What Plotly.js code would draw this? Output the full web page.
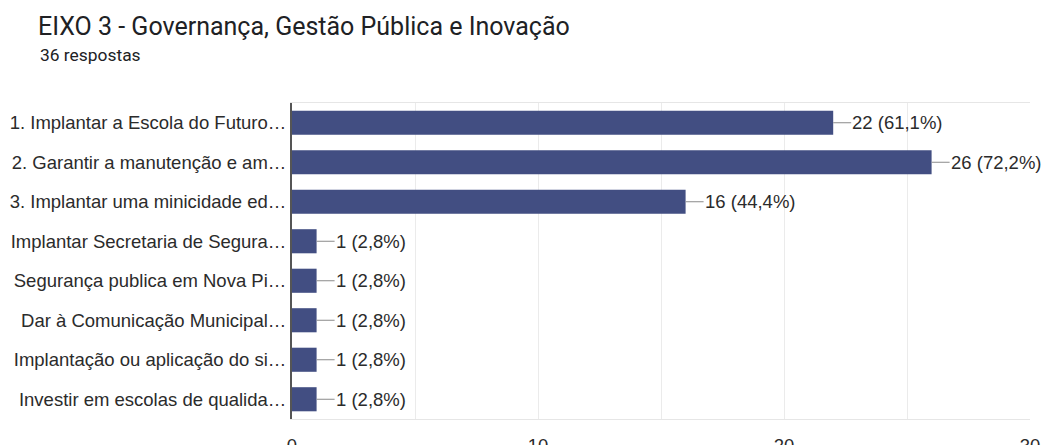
<!DOCTYPE html>
<html>
<head>
<meta charset="utf-8">
<script src="https://cdn.plot.ly/plotly-3.0.1.min.js"></script>
<style>html,body{margin:0;padding:0;background:#fff;}#chart{width:1042px;height:445px;}</style>
</head>
<body>
<div id="chart"></div>
<script>
const chartTitle = "EIXO 3 - Governança, Gestão Pública e Inovação";
const chartSubtitle = "36 respostas";
const categories = [
  "1. Implantar a Escola do Futuro…",
  "2. Garantir a manutenção e am…",
  "3. Implantar uma minicidade ed…",
  "Implantar Secretaria de Segura…",
  "Segurança publica em Nova Pi…",
  "Dar à Comunicação Municipal…",
  "Implantação ou aplicação do si…",
  "Investir em escolas de qualida…"
];
const counts = [22, 26, 16, 1, 1, 1, 1, 1];
const percents = ["61,1%", "72,2%", "44,4%", "2,8%", "2,8%", "2,8%", "2,8%", "2,8%"];
const xTicks = [0, 10, 20, 30];

const barColor = "#424e82";
const textColor = "#2b2b2b";
const labelFont = "Arial, 'Liberation Sans', sans-serif";
const titleFont = "Roboto, Arial, sans-serif";

const trace = {
  type: "bar",
  orientation: "h",
  x: counts,
  y: categories,
  marker: {color: barColor},
  hoverinfo: "none"
};

const annotations = counts.map((v, i) => ({
  x: v, y: categories[i], xref: "x", yref: "y",
  text: v + " (" + percents[i] + ")",
  showarrow: true, arrowhead: 0, arrowwidth: 1, arrowcolor: "#8a8a8a",
  ax: 18, ay: 0, xanchor: "left", yanchor: "middle",
  standoff: 0, startstandoff: 0, borderpad: 0,
  font: {family: labelFont, size: 18.5, color: textColor}
}));

annotations.push({
  text: chartSubtitle,
  xref: "paper", yref: "paper",
  x: (38 - 292) / 738, y: (419 - 55) / 316,
  xanchor: "left", yanchor: "middle", showarrow: false,
  font: {family: titleFont, size: 17.4, color: "#202124"}
});

const layout = {
  width: 1042, height: 445,
  margin: {l: 292, r: 12, t: 103, b: 26},
  paper_bgcolor: "#ffffff", plot_bgcolor: "#ffffff",
  showlegend: false,
  bargap: 0.39,
  title: {
    text: chartTitle,
    xref: "container", yref: "container",
    x: 38/1042, xanchor: "left",
    y: 1 - 26/445, yanchor: "middle",
    font: {family: titleFont, size: 25, color: "#202124"}
  },
  xaxis: {
    range: [0, 30],
    tickvals: xTicks,
    ticktext: xTicks.map(String),
    showgrid: true, gridcolor: "#ebebeb", gridwidth: 1,
    minor: {dtick: 5, tick0: 0, showgrid: true, gridcolor: "#ebebeb", gridwidth: 1},
    showline: true, mirror: true, linecolor: "#e6e6e6", linewidth: 1,
    zeroline: false,
    ticks: "outside", ticklen: 10, tickcolor: "rgba(0,0,0,0)",
    tickfont: {family: labelFont, size: 18.5, color: textColor},
    fixedrange: true
  },
  yaxis: {
    autorange: "reversed",
    showline: true, linecolor: "#555555", linewidth: 2,
    showgrid: false, zeroline: false,
    ticks: "", ticklen: 0,
    tickfont: {family: labelFont, size: 18.5, color: textColor},
    fixedrange: true
  },
  annotations: annotations
};

Plotly.newPlot("chart", [trace], layout, {displayModeBar: false, staticPlot: true});
</script>
</body>
</html>
